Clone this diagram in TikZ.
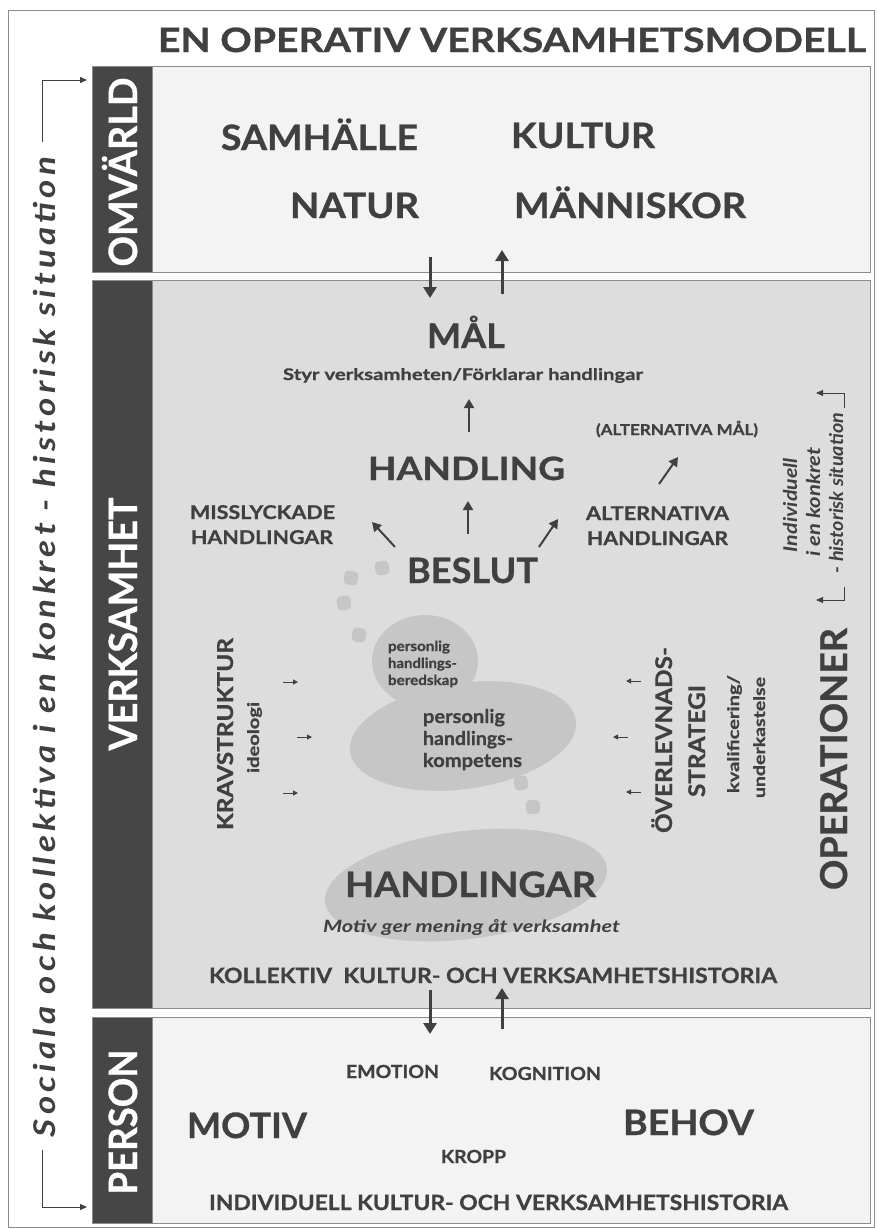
\documentclass[tikz,border=0pt]{standalone}
\usepackage{fontspec}
\setmainfont{Lato}
\usepackage{graphicx}
\usetikzlibrary{arrows.meta,shapes.geometric}

\definecolor{txt}{RGB}{64,64,64}
\definecolor{bandc}{RGB}{70,70,70}
\definecolor{lightbox}{RGB}{243,243,243}
\definecolor{midbox}{RGB}{221,221,221}
\definecolor{blob}{RGB}{198,198,198}
\definecolor{framec}{RGB}{140,140,140}

\newsavebox\fitbox
\newdimen\fitdim
\newcommand\fitw[2]{\sbox\fitbox{#2}\fitdim=\wd\fitbox\pgfmathsetmacro\fitsx{#1/\fitdim}\scalebox{\fitsx}[1]{\usebox\fitbox}}
\newcommand\fb[1]{\fontsize{#1}{#1}\selectfont\bfseries\addfontfeatures{FakeBold=0.8}}
\newcommand\fbi[1]{\fontsize{#1}{#1}\selectfont\bfseries\itshape}

\tikzset{
 lab/.style={inner sep=0pt, outer sep=0pt, text=txt, anchor=base},
 vlab/.style={lab, rotate=90},
 boxn/.style={draw=framec, line width=1.2pt, inner sep=0pt, anchor=north west},
 bandn/.style={fill=bandc, draw=framec, line width=1.2pt, inner sep=0pt, anchor=north west, minimum width=60pt},
 blobn/.style={ellipse, fill=blob, inner sep=0pt},
 dotn/.style={fill=blob, rounded corners=4pt, minimum size=14pt, inner sep=0pt},
 bigarr/.style={draw=txt, line width=3pt, -{Triangle[width=13pt,length=11pt]}},
 midarr/.style={draw=txt, line width=2pt, -{Triangle[width=10pt,length=9pt]}},
 smallarr/.style={draw=txt, line width=1pt, -{Triangle[width=5pt,length=5pt]}},
 brk/.style={draw=txt, line width=1pt, -{Triangle[width=6pt,length=7pt]}},
}

\begin{document}
\begin{tikzpicture}[x=1pt,y=-1pt]
\useasboundingbox (0,0) rectangle (876,1229);
\fill[white] (0,0) rectangle (876,1229);
\draw[framec, line width=1pt] (8,10) rectangle (874,1227);

% title
\node[lab, font=\fb{33.5}] (title) at (512,52) {\fitw{708}{EN OPERATIV VERKSAMHETSMODELL}};

% boxes
\node[boxn, fill=lightbox, minimum width=778pt, minimum height=206pt] (omv) at (92,66) {};
\node[bandn, minimum height=206pt] (omvband) at (92,66) {};
\node[boxn, fill=midbox, minimum width=778pt, minimum height=728pt] (verk) at (92,280) {};
\node[bandn, minimum height=728pt] (verkband) at (92,280) {};
\node[boxn, fill=lightbox, minimum width=778pt, minimum height=206pt] (pers) at (92,1017) {};
\node[bandn, minimum height=206pt] (persband) at (92,1017) {};

% band labels
\node[vlab, text=white, font=\fb{39}] (omvlab) at (137,172) {\fitw{189}{OMVÄRLD}};
\node[vlab, text=white, font=\fb{39}] (verklab) at (137,624) {\fitw{253}{VERKSAMHET}};
\node[vlab, text=white, font=\fb{39}] (perslab) at (137,1122) {\fitw{145}{PERSON}};

% omvarld
\node[lab, font=\fb{35}] (samh) at (319.5,150) {\fitw{197}{SAMHÄLLE}};
\node[lab, font=\fb{35}] (kult) at (583,148) {\fitw{144}{KULTUR}};
\node[lab, font=\fb{35}] (natur) at (354.5,218) {\fitw{129}{NATUR}};
\node[lab, font=\fb{35}] (mann) at (630,218) {\fitw{232}{MÄNNISKOR}};

% blobs
\node[blobn, minimum width=284pt, minimum height=108pt, rotate=7] (handblob) at (466,885) {};
\node[blobn, minimum width=228pt, minimum height=106pt, rotate=8] (kompblob) at (463,736) {};
\node[blobn, minimum width=106pt, minimum height=92pt] (beredblob) at (425,661) {};
\node[dotn, rotate=10] (d1) at (382,568) {};
\node[dotn, rotate=-10] (d2) at (351,578) {};
\node[dotn, rotate=10] (d3) at (344,603) {};
\node[dotn, rotate=-10] (d4) at (359,635) {};
\node[dotn, rotate=10] (d5) at (521,783) {};
\node[dotn, rotate=-5] (d6) at (533,807) {};

% verksamhet texts
\node[lab, font=\fb{34}] (mal) at (466,348) {\fitw{78}{MÅL}};
\node[lab, font=\fb{16}] (styr) at (463,380) {\fitw{360}{Styr verksamheten/Förklarar handlingar}};
\node[lab, font=\fb{32}] (handling) at (466.5,480) {\fitw{197}{HANDLING}};
\node[lab, font=\fb{15}] (altmal) at (677,435) {\fitw{162}{(ALTERNATIVA MÅL)}};
\node[lab, font=\fb{19}] (miss1) at (262.5,519) {\fitw{145}{MISSLYCKADE}};
\node[lab, font=\fb{19}] (miss2) at (262,544) {\fitw{142}{HANDLINGAR}};
\node[lab, font=\fb{19}] (alt1) at (657.5,520) {\fitw{143}{ALTERNATIVA}};
\node[lab, font=\fb{19}] (alt2) at (657.5,545) {\fitw{141}{HANDLINGAR}};
\node[lab, font=\fb{35}] (beslut) at (472.5,583) {\fitw{131}{BESLUT}};

\node[lab, anchor=base west, font=\fb{14}] (ber1) at (388,651) {\fitw{62}{personlig}};
\node[lab, anchor=base west, font=\fb{14}] (ber2) at (388,668) {\fitw{69}{handlings-}};
\node[lab, anchor=base west, font=\fb{14}] (ber3) at (388,685) {\fitw{70}{beredskap}};

\node[lab, anchor=base west, font=\fb{19}] (komp1) at (423,723) {\fitw{82}{personlig}};
\node[lab, anchor=base west, font=\fb{19}] (komp2) at (423,745) {\fitw{90}{handlings-}};
\node[lab, anchor=base west, font=\fb{19}] (komp3) at (423,767) {\fitw{99}{kompetens}};

\node[vlab, font=\fb{22}] (krav) at (233,734) {\fitw{192}{KRAVSTRUKTUR}};
\node[vlab, font=\fb{16}] (ideo) at (259,737.5) {\fitw{71}{ideologi}};
\node[vlab, font=\fb{23}] (overl) at (672,740) {\fitw{186}{ÖVERLEVNADS-}};
\node[vlab, font=\fb{23}] (strat) at (705,741) {\fitw{112}{STRATEGI}};
\node[vlab, font=\fb{16}] (kval) at (739,734) {\fitw{118}{kvalificering/}};
\node[vlab, font=\fb{16}] (under) at (765,737.5) {\fitw{121}{underkastelse}};
\node[vlab, font=\fb{37}] (oper) at (847,759) {\fitw{262}{OPERATIONER}};

\node[vlab, font=\fbi{19}] (indiv1) at (797,505) {\fitw{94}{Individuell}};
\node[vlab, font=\fbi{19}] (indiv2) at (820,502) {\fitw{109}{i en konkret}};
\node[vlab, font=\fbi{19}] (indiv3) at (843,493) {\fitw{160}{- historisk situation}};

\node[lab, font=\fb{35}] (handlingar) at (470.5,897) {\fitw{251}{HANDLINGAR}};
\node[lab, font=\fbi{17}] (motivtxt) at (471.5,932) {\fitw{297}{Motiv ger mening åt verksamhet}};
\node[lab, font=\fb{21}] (koll) at (493,983) {\fitw{568}{KOLLEKTIV\ \ KULTUR- OCH VERKSAMHETSHISTORIA}};

% person
\node[lab, font=\fb{18}] (emo) at (392.5,1078) {\fitw{93}{EMOTION}};
\node[lab, font=\fb{18}] (kogn) at (545,1080) {\fitw{112}{KOGNITION}};
\node[lab, font=\fb{35}] (motiv) at (247,1138) {\fitw{120}{MOTIV}};
\node[lab, font=\fb{35}] (behov) at (688.5,1135) {\fitw{131}{BEHOV}};
\node[lab, font=\fb{18}] (kropp) at (473.5,1163) {\fitw{65}{KROPP}};
\node[lab, font=\fb{21}] (indkult) at (498.5,1210) {\fitw{579}{INDIVIDUELL KULTUR- OCH VERKSAMHETSHISTORIA}};

% left side text
\node[vlab, font=\fbi{30}\addfontfeatures{LetterSpace=12}] (social) at (55,647) {\fitw{980}{Sociala och kollektiva i en konkret - historisk situation}};

% brackets
\coordinate (lb1) at (42,142); \coordinate (lb2) at (42,80); \coordinate (lb3) at (87,80);
\draw[brk] (lb1) -- (lb2) -- (lb3);
\coordinate (lb4) at (42,1150); \coordinate (lb5) at (42,1207); \coordinate (lb6) at (87,1207);
\draw[brk] (lb4) -- (lb5) -- (lb6);
\coordinate (rb1) at (844,408); \coordinate (rb2) at (844,393); \coordinate (rb3) at (816,393);
\draw[brk] (rb1) -- (rb2) -- (rb3);
\coordinate (rb4) at (844,587); \coordinate (rb5) at (844,600); \coordinate (rb6) at (816,600);
\draw[brk] (rb4) -- (rb5) -- (rb6);

% arrows between boxes
\coordinate (a1s) at (430,257); \coordinate (a1e) at (430,298);
\coordinate (a2s) at (502,294); \coordinate (a2e) at (502,250);
\coordinate (a3s) at (430,990); \coordinate (a3e) at (430,1034);
\coordinate (a4s) at (502,1029); \coordinate (a4e) at (502,988);
\draw[bigarr] (a1s) -- (a1e);
\draw[bigarr] (a2s) -- (a2e);
\draw[bigarr] (a3s) -- (a3e);
\draw[bigarr] (a4s) -- (a4e);

% inner arrows
\coordinate (m1s) at (469,432); \coordinate (m1e) at (469,399);
\coordinate (m2s) at (468,534); \coordinate (m2e) at (468,501);
\coordinate (m3s) at (395,547); \coordinate (m3e) at (372,522);
\coordinate (m4s) at (539,547); \coordinate (m4e) at (558,519);
\coordinate (m5s) at (659,484); \coordinate (m5e) at (678,457);
\draw[midarr] (m1s) -- (m1e);
\draw[midarr] (m2s) -- (m2e);
\draw[midarr] (m3s) -- (m3e);
\draw[midarr] (m4s) -- (m4e);
\draw[midarr] (m5s) -- (m5e);

% small side arrows
\coordinate (s1s) at (283,682); \coordinate (s1e) at (298,682);
\coordinate (s2s) at (297,737); \coordinate (s2e) at (312,737);
\coordinate (s3s) at (283,793); \coordinate (s3e) at (298,793);
\coordinate (s4s) at (641,681); \coordinate (s4e) at (626,681);
\coordinate (s5s) at (628,737); \coordinate (s5e) at (613,737);
\coordinate (s6s) at (641,792); \coordinate (s6e) at (626,792);
\foreach \i in {1,...,6} {\draw[smallarr] (s\i s) -- (s\i e);}
\end{tikzpicture}
\end{document}
